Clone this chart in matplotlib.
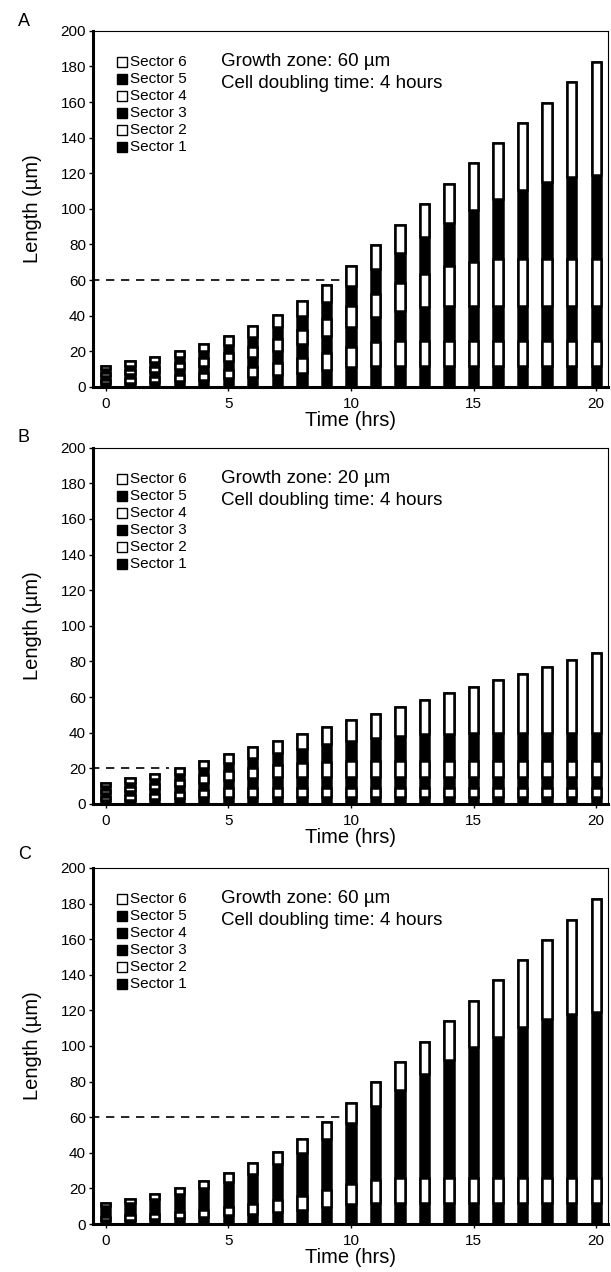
import numpy as np
import matplotlib.pyplot as plt

plt.rcParams['font.family'] = ['Liberation Sans', 'DejaVu Sans']

# time points (hours)
hours = list(range(21))

# Panels A and C (growth zone 60 um): top of each sector, cumulative length (um)
ac_sector1 = [2, 2.4, 2.8, 3.4, 4, 4.8, 5.7, 6.7, 8, 9.5, 11.3, 11.9, 11.9, 11.9, 11.9, 11.9, 11.9, 11.9, 11.9, 11.9, 11.9]
ac_sector2 = [4, 4.8, 5.7, 6.7, 8, 9.5, 11.3, 13.5, 16, 19, 22.6, 25, 26, 26, 26, 26, 26, 26, 26, 26, 26]
ac_sector3 = [6, 7.1, 8.5, 10.1, 12, 14.3, 17, 20.2, 24, 28.5, 33.9, 39, 42.8, 44.8, 45.3, 45.3, 45.3, 45.3, 45.3, 45.3, 45.3]
ac_sector4 = [8, 9.5, 11.3, 13.5, 16, 19, 22.6, 26.9, 32, 38, 45.3, 52, 58.5, 63.6, 67.8, 70.3, 71.6, 71.6, 71.6, 71.6, 71.6]
ac_sector5 = [10, 11.9, 14.1, 16.8, 20, 23.8, 28.3, 33.6, 40, 47.6, 56.6, 66.3, 75.2, 84.1, 92, 99.3, 105.3, 110.6, 115.2, 118, 119]
ac_sector6 = [12, 14.3, 17, 20.2, 24, 28.5, 34, 40.4, 48, 57.1, 68, 79.5, 91, 102.5, 114, 125.5, 137, 148.3, 159.5, 171, 182.5]

# Panel B (growth zone 20 um)
b_sector1 = [2, 2.4, 2.8, 3.4, 4, 4, 4, 4, 4, 4, 4, 4, 4, 4, 4, 4, 4, 4, 4, 4, 4]
b_sector2 = [4, 4.8, 5.7, 6.7, 8, 8.7, 8.9, 8.9, 8.9, 8.9, 8.9, 8.9, 8.9, 8.9, 8.9, 8.9, 8.9, 8.9, 8.9, 8.9, 8.9]
b_sector3 = [6, 7.1, 8.5, 10.1, 12, 13.5, 14.6, 15.1, 15.1, 15.1, 15.1, 15.1, 15.1, 15.1, 15.1, 15.1, 15.1, 15.1, 15.1, 15.1, 15.1]
b_sector4 = [8, 9.5, 11.3, 13.5, 16, 18.2, 20.2, 21.8, 23.1, 23.8, 23.9, 23.9, 23.9, 23.9, 23.9, 23.9, 23.9, 23.9, 23.9, 23.9, 23.9]
b_sector5 = [10, 11.9, 14.1, 16.8, 20, 23, 25.9, 28.6, 31.1, 33.4, 35.4, 37, 38.2, 39, 39.5, 39.7, 39.8, 39.8, 39.8, 39.8, 39.8]
b_sector6 = [12, 14.3, 17, 20.2, 24, 27.9, 31.8, 35.6, 39.4, 43.2, 47, 50.7, 54.5, 58.2, 62, 65.7, 69.5, 73.2, 77, 80.7, 84.5]

sector_names = ['Sector 1', 'Sector 2', 'Sector 3', 'Sector 4', 'Sector 5', 'Sector 6']
colors_ab = ['black', 'white', 'black', 'white', 'black', 'white']
colors_c = ['black', 'white', 'black', 'black', 'black', 'white']

panels = [
    ('A', [ac_sector1, ac_sector2, ac_sector3, ac_sector4, ac_sector5, ac_sector6], colors_ab, 60, 'Growth zone: 60 \u00b5m'),
    ('B', [b_sector1, b_sector2, b_sector3, b_sector4, b_sector5, b_sector6], colors_ab, 20, 'Growth zone: 20 \u00b5m'),
    ('C', [ac_sector1, ac_sector2, ac_sector3, ac_sector4, ac_sector5, ac_sector6], colors_c, 60, 'Growth zone: 60 \u00b5m'),
]

fig = plt.figure(figsize=(6.11, 12.72), dpi=100)
bottoms_fig = [0.6958, 0.368, 0.0377]
letter_y = [0.983, 0.656, 0.328]
bw = 0.38

for (letter, tops, colors, zone, zone_txt), yb, ly in zip(panels, bottoms_fig, letter_y):
    ax = fig.add_axes([0.152, yb, 0.843, 0.280])
    tops = np.array(tops)
    bottoms = np.vstack([np.zeros(len(hours)), tops[:-1]])
    heights = tops - bottoms

    # full bar in black underneath so adjacent black sectors show no seams
    ax.bar(hours, tops[-1], width=bw, color='black', edgecolor='black', linewidth=1.8, zorder=3)
    for k in range(6):
        if colors[k] == 'white':
            ax.bar(hours, heights[k], bottom=bottoms[k], width=bw, color='white',
                   edgecolor='black', linewidth=1.8, zorder=4)

    # growth zone marker
    ax.plot([-0.6, 9.6 if zone == 60 else 2.6], [zone, zone], color='black',
            linestyle=(0, (5, 4)), linewidth=1.2, zorder=2)

    ax.set_xlim(-0.52, 20.48)
    ax.set_ylim(0, 200)
    ax.set_yticks(range(0, 201, 20))
    ax.set_xticks([0, 5, 10, 15, 20])
    ax.tick_params(axis='both', labelsize=11, direction='out', length=3, width=1, pad=2)
    ax.tick_params(axis='x', pad=4)
    ax.spines['left'].set_linewidth(2.2)
    ax.spines['bottom'].set_linewidth(2.2)
    ax.spines['top'].set_linewidth(0.8)
    ax.spines['right'].set_linewidth(0.8)

    ax.set_ylabel('Length (\u00b5m)', fontsize=14.5)
    ax.yaxis.set_label_coords(-0.099, 0.5)
    ax.set_xlabel('Time (hrs)', fontsize=14.5)
    ax.xaxis.set_label_coords(0.5, -0.068)

    # legend drawn row by row, Sector 6 on top
    for i in range(6):
        k = 5 - i
        yy = 0.913 - 0.048 * i
        ax.plot([0.056], [yy], marker='s', markersize=7, markerfacecolor=colors[k],
                markeredgecolor='black', markeredgewidth=1, transform=ax.transAxes,
                clip_on=False, linestyle='none')
        ax.text(0.072, yy, sector_names[k], transform=ax.transAxes, fontsize=11,
                va='center', ha='left')

    ax.text(0.249, 0.913, zone_txt, transform=ax.transAxes, fontsize=13.5, va='center', ha='left')
    ax.text(0.249, 0.851, 'Cell doubling time: 4 hours', transform=ax.transAxes,
            fontsize=13.5, va='center', ha='left')

    fig.text(0.029, ly, letter, fontsize=13, va='center', ha='left')

fig.savefig('out.png', dpi=100)
